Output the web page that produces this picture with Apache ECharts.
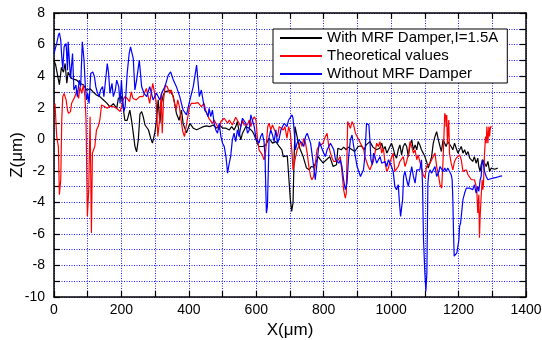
<!DOCTYPE html>
<html>
<head>
<meta charset="utf-8">
<script src="https://cdn.jsdelivr.net/npm/echarts@6/dist/echarts.min.js"></script>
<style>
html,body{margin:0;padding:0;background:#fff;}
#chart{width:542px;height:340px;}
</style>
</head>
<body>
<div id="chart"></div>
<script>
// ---- data (X in µm, Z in µm) ----
const seriesNames = ["With MRF Damper,I=1.5A", "Theoretical values", "Without MRF Damper"];
const xTickLabels = [0, 200, 400, 600, 800, 1000, 1200, 1400];
const yTickLabels = [-10, -8, -6, -4, -2, 0, 2, 4, 6, 8];
const xTitle = 'X(μm)';
const yTitle = 'Z(μm)';

const withDamper = [[0,5.0],[5,4.7],[10,4.6],[16,3.45],[22,4.55],[28,4.25],[33,4.8],[38,3.55],[42,4.25],[47,4.05],[52,3.85],[57,3.75],[67,3.75],[72,3.85],[77,3.55],[87,3.45],[97,3.1],[107,3.2],[116,3.0],[126,2.8],[136,2.7],[146,2.5],[156,2.3],[166,2.05],[176,2.25],[186,1.95],[191,2.6],[200,2.7],[205,2.05],[210,1.2],[217,1.2],[225,1.85],[230,1.2],[235,0.4],[240,-0.45],[245,-0.8],[250,-0.05],[255,1.6],[260,1.75],[265,1.4],[270,0.9],[280,0.6],[287,0.05],[292,-0.25],[299,0.4],[304,1.2],[309,2.5],[314,1.0],[319,2.3],[324,2.8],[329,3.0],[334,2.9],[344,3.1],[354,2.7],[358,2.25],[363,1.65],[371,1.2],[378,1.85],[383,1.0],[393,0.4],[403,1.0],[413,0.7],[423,0.6],[433,0.7],[443,0.8],[452,0.85],[462,0.8],[472,0.9],[482,0.7],[492,0.9],[500,0.7],[510,0.7],[520,0.59],[527,0.8],[534,0.59],[539,0.8],[544,1.12],[549,0.48],[554,-0.04],[559,0.38],[564,0.59],[569,0.8],[579,0.7],[589,0.48],[594,0.27],[599,0.17],[603,-0.25],[608,-0.46],[613,-0.57],[620,-0.46],[628,-0.36],[633,-0.25],[638,0.06],[643,-0.04],[648,-0.25],[658,-0.15],[668,-0.46],[676,-0.67],[680,-1.1],[685,-1.0],[692,-1.05],[697,-1.1],[701,-3.83],[705,-4.57],[709,-4.04],[712,-1.3],[715,0.8],[719,0.9],[724,-0.15],[729,-0.57],[739,-1.1],[749,-1.83],[757,-1.94],[763,-1.73],[770,-1.77],[778,-1.41],[784,-1.1],[790,-1.3],[798,-1.5],[808,-1.3],[818,-1.1],[828,-1.73],[833,-1.8],[838,-1.62],[842,-0.57],[847,-0.46],[852,-0.67],[859,-0.5],[867,-0.67],[872,-0.5],[882,-0.63],[892,-0.78],[902,-0.46],[912,-0.42],[920,-0.67],[926,-0.36],[937,-0.15],[946,-0.5],[956,-0.67],[966,-0.57],[972,-0.25],[977,-0.67],[982,-0.46],[987,-0.88],[992,-0.67],[997,-0.67],[1001,-0.25],[1006,-0.57],[1011,-0.99],[1016,-1.2],[1021,-0.67],[1026,-0.36],[1031,-0.99],[1036,-0.46],[1041,-0.25],[1046,-0.46],[1051,-1.1],[1056,-0.36],[1061,-0.04],[1066,-0.67],[1071,-0.36],[1076,-0.67],[1080,-0.15],[1085,-0.36],[1090,-0.67],[1095,-0.88],[1100,-1.1],[1105,-1.41],[1110,-1.83],[1115,-1.5],[1120,-1.1],[1125,-0.25],[1130,0.17],[1135,0.48],[1140,-0.04],[1145,-0.46],[1149,-0.78],[1154,-0.04],[1159,0.06],[1163,-0.46],[1168,-0.15],[1173,-0.25],[1178,-0.46],[1183,-0.67],[1188,-0.25],[1193,-0.57],[1198,-0.88],[1203,-0.67],[1208,-0.46],[1213,-0.88],[1218,-0.67],[1223,-0.99],[1228,-0.78],[1233,-1.2],[1238,-1.1],[1242,-1.41],[1247,-1.1],[1252,-1.52],[1257,-1.2],[1260,-1.73],[1264,-2.04],[1267,-1.62],[1272,-1.3],[1277,-1.52],[1282,-1.73],[1287,-1.41],[1292,-2.04],[1297,-1.83],[1307,-1.9],[1316,-1.83]];

const theoretical = [[3,2.27],[8,0.17],[13,-0.46],[16,-3.52],[20,-2.57],[23,1.22],[26,2.7],[30,2.9],[36,2.49],[40,1.85],[43,1.64],[49,1.75],[52,2.27],[57,2.49],[62,2.7],[65,2.91],[67,3.12],[70,2.8],[73,2.59],[77,3.33],[82,2.91],[87,3.43],[92,2.7],[95,1.22],[99,-4.89],[103,-3.2],[105,-0.88],[107,1.43],[111,-5.94],[114,-0.88],[117,-0.88],[121,-0.46],[126,0.59],[131,0.8],[136,1.22],[141,2.17],[146,2.27],[151,2.06],[158,1.96],[166,2.1],[176,2.06],[186,1.96],[191,1.85],[196,1.75],[200,2.06],[205,2.49],[210,2.7],[217,2.59],[224,2.38],[229,3.01],[234,2.6],[239,2.7],[244,2.49],[249,2.59],[254,2.7],[259,2.59],[264,2.7],[269,2.59],[274,3.22],[279,3.12],[284,2.27],[288,2.9],[293,3.54],[298,3.5],[303,2.38],[308,0.17],[313,1.22],[318,2.9],[321,0.38],[325,2.49],[330,3.43],[336,3.33],[343,2.9],[348,3.12],[353,2.7],[358,2.8],[362,1.85],[367,2.49],[372,2.06],[377,1.22],[382,0.48],[387,0.17],[392,0.27],[397,1.43],[402,2.06],[407,2.27],[417,2.27],[427,2.32],[437,2.06],[445,2.27],[451,1.75],[460,1.3],[470,1.0],[475,1.22],[485,0.8],[490,0.59],[495,1.12],[505,1.33],[515,1.01],[520,1.22],[529,0.9],[539,1.39],[544,1.43],[549,1.01],[554,0.8],[559,1.22],[564,0.9],[569,0.8],[574,0.9],[579,1.22],[584,0.8],[589,1.22],[594,1.43],[599,1.22],[603,0.17],[608,-0.67],[613,-0.78],[618,-0.99],[623,-1.3],[626,-1.1],[630,-0.25],[634,0.8],[638,1.01],[643,0.59],[648,0.9],[653,1.01],[658,0.38],[663,0.17],[668,0.8],[673,0.9],[680,0.59],[685,0.8],[691,0.06],[696,0.8],[701,0.38],[706,-0.88],[709,-1.94],[713,-1.5],[721,-0.67],[726,-0.46],[731,-0.15],[736,-0.46],[741,0.06],[746,-0.25],[751,-0.88],[756,-1.73],[761,-2.36],[765,-2.57],[770,-2.36],[775,-1.62],[780,-0.67],[785,-0.46],[790,-0.57],[798,-0.25],[805,0.17],[810,0.38],[815,-0.46],[820,-0.88],[825,-1.2],[830,-1.41],[840,-1.41],[845,-1.3],[849,-1.1],[854,-2.04],[859,-3.2],[864,-3.73],[867,-3.41],[871,1.12],[876,1.12],[879,0.69],[884,1.12],[889,0.9],[894,0.38],[899,0.17],[904,0.06],[909,-0.25],[914,-0.46],[919,-0.67],[922,-1.1],[927,-1.41],[932,-1.73],[937,-1.94],[942,-1.83],[947,-1.41],[952,-0.88],[957,-0.25],[962,-0.46],[967,-0.15],[972,-0.88],[977,-0.57],[982,-1.52],[987,-2.04],[992,-1.83],[997,-1.41],[1001,-1.52],[1006,-0.88],[1011,-2.04],[1016,-2.15],[1021,-1.73],[1026,-1.41],[1031,-1.52],[1036,-1.1],[1041,-1.73],[1046,-1.41],[1051,-0.99],[1056,-0.15],[1061,-0.46],[1066,-0.88],[1071,-0.67],[1076,-1.3],[1080,-0.99],[1085,-1.41],[1090,-1.83],[1095,-2.25],[1100,-2.46],[1105,-1.73],[1110,-1.83],[1115,-1.52],[1120,-1.41],[1125,-1.1],[1130,-0.88],[1135,-1.73],[1140,-2.25],[1145,-2.88],[1150,-3.1],[1154,-1.3],[1159,1.64],[1162,1.43],[1163,0.8],[1165,1.54],[1167,-0.25],[1171,1.22],[1173,-0.88],[1178,-1.52],[1183,-1.94],[1188,-1.41],[1193,-1.2],[1198,-1.3],[1203,-0.99],[1208,-1.3],[1213,-2.04],[1218,-2.15],[1223,-1.94],[1228,-2.25],[1233,-2.15],[1238,-2.57],[1242,-2.67],[1247,-2.57],[1250,-2.78],[1254,-3.2],[1257,-4.68],[1260,-3.52],[1262,-6.25],[1264,-4.89],[1267,-3.62],[1270,-2.57],[1272,-3.2],[1274,-2.78],[1277,-0.88],[1280,0.17],[1282,-0.25],[1284,0.8],[1287,-0.25],[1290,0.8],[1292,0.17],[1294,0.69],[1297,0.84]];

const withoutDamper = [[0,5.43],[3,5.54],[8,6.07],[13,6.59],[16,6.74],[20,6.28],[23,5.22],[26,4.49],[30,5.85],[36,6.07],[40,4.38],[42,6.17],[49,3.85],[55,5.43],[59,3.12],[65,3.43],[69,2.7],[75,3.75],[79,3.33],[84,6.17],[89,5.01],[93,3.33],[97,2.49],[100,2.91],[104,2.27],[109,4.17],[115,4.27],[120,3.96],[124,3.33],[128,3.01],[134,2.7],[138,3.12],[144,3.33],[148,2.7],[154,3.96],[158,4.8],[162,4.17],[166,2.91],[172,3.54],[176,2.7],[182,3.12],[186,3.75],[192,3.33],[196,2.27],[200,3.75],[203,2.7],[207,1.75],[211,2.06],[217,4.17],[223,5.43],[227,5.85],[235,5.12],[240,3.12],[245,3.75],[253,5.01],[260,3.33],[267,2.91],[275,2.7],[284,3.33],[294,2.49],[304,2.91],[314,2.49],[321,3.0],[329,3.33],[339,4.06],[346,4.27],[354,3.75],[363,3.33],[373,2.7],[383,1.85],[393,1.54],[403,2.48],[413,3.33],[423,4.7],[431,2.7],[437,3.12],[447,1.85],[452,1.7],[457,1.43],[460,1.96],[465,1.43],[470,1.85],[475,1.01],[480,0.59],[485,0.38],[490,1.01],[495,0.17],[500,-0.25],[505,-0.46],[510,-1.1],[512,-1.52],[515,-2.15],[518,-1.73],[522,-1.3],[524,-1.1],[529,-0.04],[534,0.38],[539,-0.15],[544,0.59],[549,0.17],[554,0.8],[559,1.33],[564,1.43],[569,1.01],[574,0.38],[579,0.59],[584,1.54],[589,1.43],[594,0.8],[599,0.06],[603,-0.04],[608,-0.25],[613,0.17],[618,0.38],[623,-0.15],[626,-1.1],[628,-2.99],[630,-4.68],[633,-4.26],[636,-1.73],[638,0.17],[643,0.59],[648,0.27],[653,-0.15],[658,0.59],[663,-0.25],[668,0.06],[673,0.59],[678,0.8],[683,1.01],[691,0.8],[696,1.22],[701,1.22],[706,1.54],[709,1.33],[713,0.38],[716,-0.67],[721,-0.25],[726,-0.04],[731,0.06],[736,-0.25],[741,-0.46],[746,0.17],[751,0.38],[756,0.27],[761,-0.25],[765,-0.88],[770,-1.73],[775,-2.57],[779,-1.73],[783,-0.88],[787,-0.15],[792,-0.25],[798,-0.78],[805,-1.1],[810,-0.67],[820,-0.25],[825,-0.36],[830,-0.67],[835,-1.3],[840,-1.2],[845,-1.52],[849,-1.3],[854,-1.73],[859,-2.57],[864,-3.2],[869,-2.78],[874,-1.1],[879,-0.04],[884,0.27],[889,-0.46],[894,-1.1],[899,-1.73],[904,-1.73],[909,-2.36],[913,-2.46],[918,-1.94],[922,-1.1],[927,1.01],[930,1.12],[934,0.9],[937,-0.04],[940,-1.3],[944,-1.62],[948,-0.88],[952,-1.1],[957,-1.52],[962,-1.41],[967,-1.1],[972,-1.52],[977,-1.41],[982,-1.41],[987,-1.73],[992,-1.3],[997,-1.41],[1001,-1.73],[1006,-2.04],[1011,-2.99],[1016,-3.2],[1021,-2.88],[1024,-3.83],[1028,-4.89],[1031,-4.89],[1034,-3.83],[1037,-2.36],[1041,-2.04],[1046,-2.57],[1051,-2.99],[1056,-2.36],[1061,-1.73],[1066,-2.36],[1071,-2.78],[1076,-1.94],[1080,-2.04],[1085,-1.94],[1090,-1.3],[1093,-2.78],[1096,-6.36],[1100,-8.47],[1103,-9.63],[1106,-8.47],[1109,-2.78],[1112,-2.15],[1115,-1.94],[1120,-2.15],[1125,-2.04],[1130,-1.73],[1135,-2.36],[1140,-2.15],[1145,-1.73],[1149,-1.83],[1154,-2.04],[1159,-1.83],[1163,-2.04],[1168,-1.83],[1173,-1.94],[1178,-2.25],[1181,-2.57],[1183,-3.83],[1185,-5.94],[1187,-7.41],[1191,-7.31],[1195,-7.2],[1199,-7.1],[1201,-6.36],[1203,-5.52],[1206,-5.31],[1209,-4.68],[1213,-3.83],[1218,-3.41],[1223,-3.1],[1228,-3.2],[1233,-3.1],[1238,-2.99],[1242,-3.2],[1247,-2.88],[1252,-3.41],[1257,-2.99],[1260,-3.31],[1264,-2.57],[1267,-2.36],[1270,-1.3],[1274,-1.62],[1277,-2.04],[1282,-2.36],[1287,-2.57],[1292,-2.51],[1302,-2.46],[1312,-2.42],[1321,-2.36],[1329,-2.32]];

// ---- chart ----
const FONT = "'Liberation Sans', Arial, sans-serif";
const gridLine = { show: true, lineStyle: { color: '#1a1aff', width: 1, type: [1, 1.5] } };
const axisLineStyle = { show: true, onZero: false, lineStyle: { color: '#000', width: 1.5 } };
const tickStyle = { show: true, inside: true, length: 6, lineStyle: { color: '#000', width: 1.2 } };

const chart = echarts.init(document.getElementById('chart'), null, { renderer: 'canvas' });
chart.setOption({
  animation: false,
  backgroundColor: '#fff',
  grid: { left: 54, right: 16, top: 13, bottom: 43, containLabel: false, outerBoundsMode: 'none' },
  legend: {
    orient: 'vertical',
    left: 273, top: 29,
    data: seriesNames,
    icon: 'rect',
    itemWidth: 42, itemHeight: 2, itemGap: 2,
    padding: [1, 9, 1, 7],
    borderColor: '#000', borderWidth: 1, borderRadius: 0,
    backgroundColor: '#fff',
    textStyle: { fontSize: 15, color: '#000', fontFamily: FONT, lineHeight: 16 }
  },
  graphic: [{
    type: 'text', x: 17, y: 155, rotation: Math.PI / 2,
    style: { text: yTitle, fontSize: 17, fill: '#000', fontFamily: FONT,
      align: 'center', verticalAlign: 'middle' }
  }],
  xAxis: [{
    type: 'value', min: 0, max: 1400, interval: 100, position: 'bottom',
    name: xTitle, nameLocation: 'middle', nameGap: 25,
    nameTextStyle: { fontSize: 17, color: '#000', fontFamily: FONT },
    axisLine: axisLineStyle, axisTick: tickStyle, splitLine: gridLine,
    axisLabel: { fontSize: 14, color: '#000', margin: 6, fontFamily: FONT,
      formatter: v => xTickLabels.includes(v) ? String(v) : '' }
  }, {
    type: 'value', min: 0, max: 1400, interval: 100, position: 'top',
    axisLine: axisLineStyle, axisTick: tickStyle, splitLine: { show: false },
    axisLabel: { show: false }
  }],
  yAxis: [{
    type: 'value', min: -10, max: 8, interval: 1, position: 'left',
    axisLine: axisLineStyle, axisTick: tickStyle, splitLine: gridLine,
    axisLabel: { fontSize: 14, color: '#000', margin: 9, fontFamily: FONT,
      formatter: v => yTickLabels.includes(v) ? String(v) : '' }
  }, {
    type: 'value', min: -10, max: 8, interval: 1, position: 'right',
    axisLine: axisLineStyle, axisTick: tickStyle, splitLine: { show: false },
    axisLabel: { show: false }
  }],
  series: [
    { name: seriesNames[0], type: 'line', data: withDamper, symbol: 'none',
      lineStyle: { color: '#000', width: 1.2 }, itemStyle: { color: '#000' } },
    { name: seriesNames[1], type: 'line', data: theoretical, symbol: 'none',
      lineStyle: { color: '#ff0000', width: 1.2 }, itemStyle: { color: '#ff0000' } },
    { name: seriesNames[2], type: 'line', data: withoutDamper, symbol: 'none',
      lineStyle: { color: '#0000ff', width: 1.2 }, itemStyle: { color: '#0000ff' } }
  ]
});
</script>
</body>
</html>
